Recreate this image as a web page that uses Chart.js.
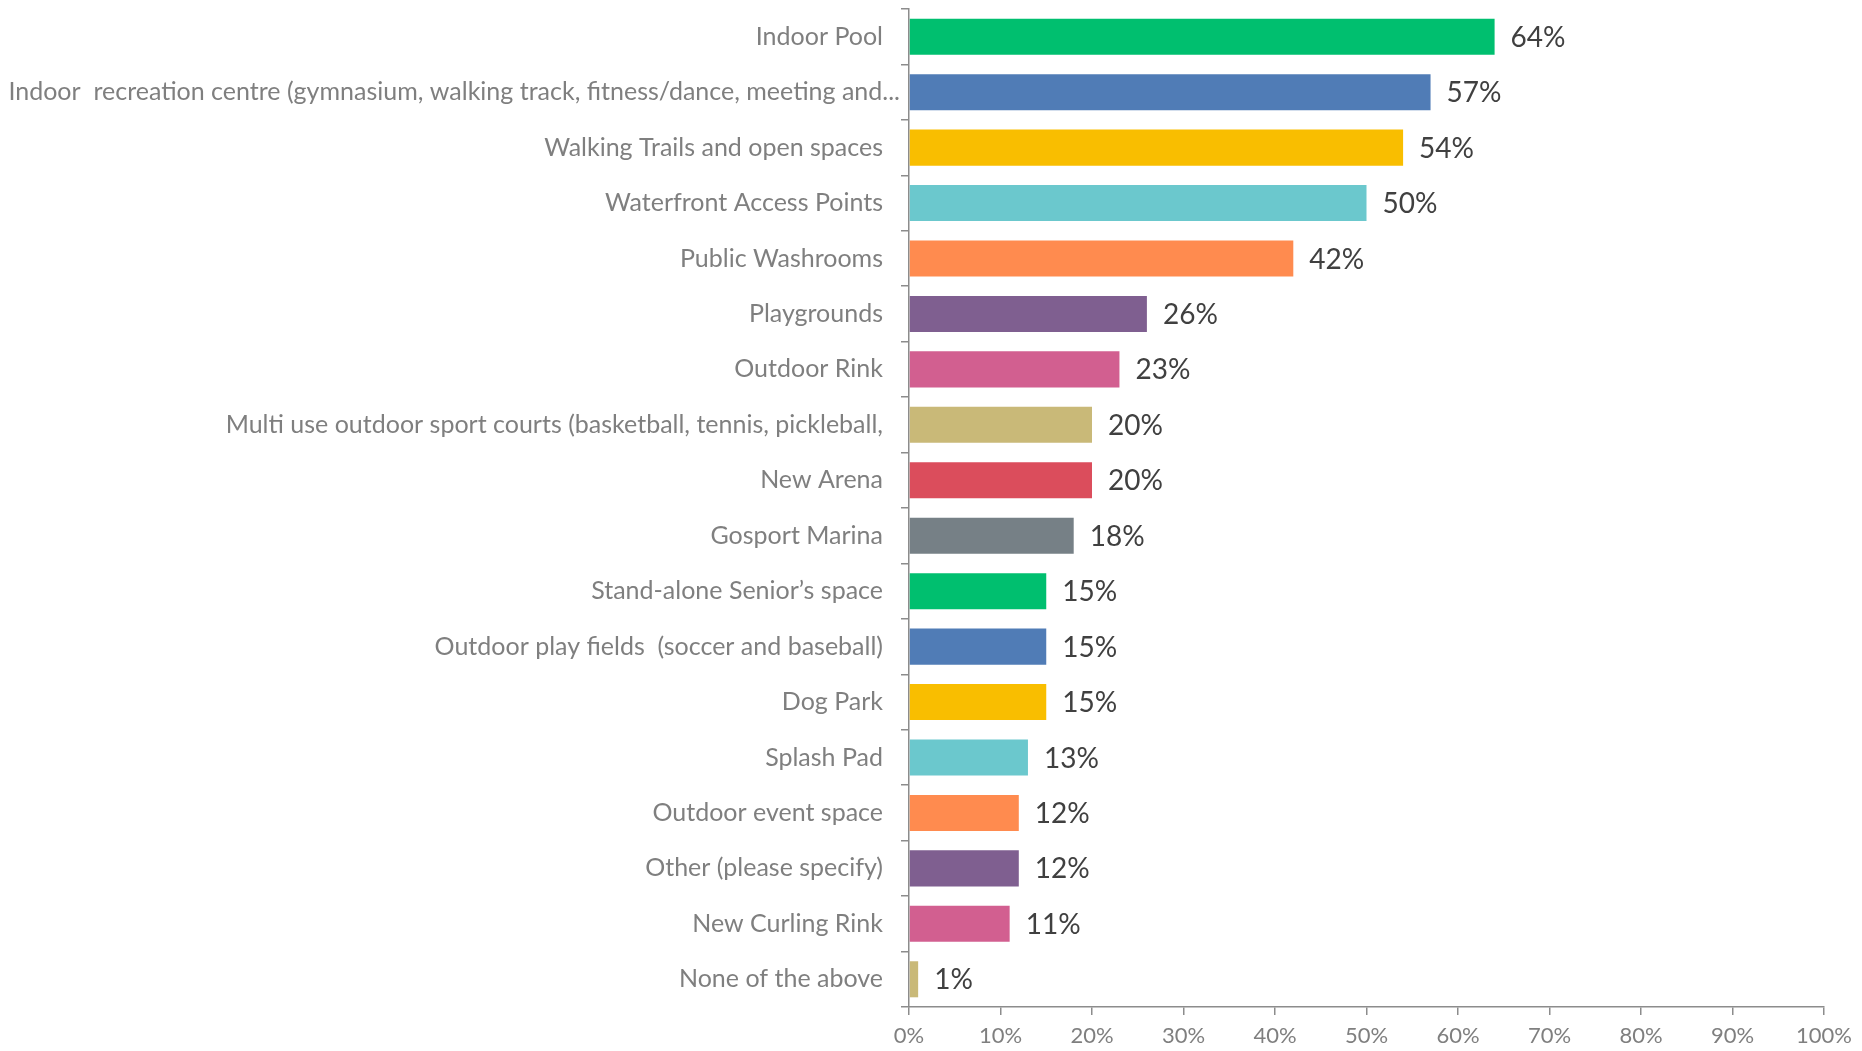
<!DOCTYPE html>
<html>
<head>
<meta charset="utf-8">
<script src="https://cdn.jsdelivr.net/npm/chart.js@4.4.1/dist/chart.umd.min.js"></script>
<style>
  html, body { margin: 0; padding: 0; background: #fff; }
  #wrap { width: 1862px; height: 1051px; }
</style>
</head>
<body>
<div id="wrap"><canvas id="chart" width="1862" height="1051"></canvas></div>
<script>
const categories = [
  "Indoor Pool",
  "Indoor  recreation centre (gymnasium, walking track, fitness/dance, meeting and...",
  "Walking Trails and open spaces",
  "Waterfront Access Points",
  "Public Washrooms",
  "Playgrounds",
  "Outdoor Rink",
  "Multi use outdoor sport courts (basketball, tennis, pickleball,",
  "New Arena",
  "Gosport Marina",
  "Stand-alone Senior\u2019s space",
  "Outdoor play fields  (soccer and baseball)",
  "Dog Park",
  "Splash Pad",
  "Outdoor event space",
  "Other (please specify)",
  "New Curling Rink",
  "None of the above",
];

const percents = [64, 57, 54, 50, 42, 26, 23, 20, 20, 18, 15, 15, 15, 13, 12, 12, 11, 1];

const palette = [
  "#00bf6f", "#507cb6", "#f9be00", "#6bc8cd", "#ff8b4f",
  "#7f5f90", "#d25f90", "#c9b978", "#db4d5c", "#768086",
];

const xTicks = [0, 10, 20, 30, 40, 50, 60, 70, 80, 90, 100];

const axisGrey = "#8c8c8c";
const labelGrey = "#7f7f7f";

// value text just past the end of each bar
const barValueLabels = {
  id: "barValueLabels",
  afterDatasetsDraw(chart) {
    const { ctx } = chart;
    const meta = chart.getDatasetMeta(0);
    ctx.save();
    ctx.font = "28px Lato";
    ctx.fillStyle = "#404040";
    ctx.textAlign = "left";
    ctx.textBaseline = "middle";
    meta.data.forEach((bar, i) => {
      ctx.fillText(percents[i] + "%", bar.x + 16, bar.y + 1);
    });
    ctx.restore();
  },
};

// category names, right aligned against the y axis; the truncated
// long name sits a little closer to the axis than the rest
const categoryLabels = {
  id: "categoryLabels",
  afterDraw(chart) {
    const { ctx, chartArea } = chart;
    const y = chart.scales.y;
    ctx.save();
    ctx.font = "25px Lato";
    ctx.fillStyle = labelGrey;
    ctx.textAlign = "right";
    ctx.textBaseline = "middle";
    categories.forEach((name, i) => {
      const gap = name.endsWith("...") ? 9 : 26;
      ctx.fillText(name, chartArea.left - gap, y.getPixelForValue(i));
    });
    ctx.restore();
  },
};

new Chart(document.getElementById("chart"), {
  type: "bar",
  data: {
    labels: categories,
    datasets: [
      {
        data: percents,
        backgroundColor: categories.map((_, i) => palette[i % palette.length]),
        barPercentage: 0.65,
        categoryPercentage: 1,
      },
    ],
  },
  options: {
    indexAxis: "y",
    responsive: false,
    animation: false,
    layout: {
      padding: { top: 9, right: 38, left: 0, bottom: 0 },
    },
    plugins: {
      legend: { display: false },
      tooltip: { enabled: false },
    },
    scales: {
      x: {
        min: 0,
        max: 100,
        afterBuildTicks: (scale) => {
          scale.ticks = xTicks.map((v) => ({ value: v }));
        },
        afterFit: (scale) => {
          scale.height = 44;
        },
        grid: {
          drawOnChartArea: false,
          drawTicks: true,
          tickLength: 8,
          color: axisGrey,
          lineWidth: 1.5,
        },
        border: { display: true, color: axisGrey, width: 1.5 },
        ticks: {
          padding: 8,
          color: labelGrey,
          font: { family: "Lato", size: 22 },
          maxRotation: 0,
          callback: (v) => v + "%",
        },
      },
      y: {
        afterFit: (scale) => {
          scale.width = 909;
          scale.paddingTop = 0;
          scale.paddingBottom = 0;
        },
        grid: {
          drawOnChartArea: false,
          drawTicks: true,
          tickLength: 8,
          offset: true,
          color: axisGrey,
          lineWidth: 1.5,
        },
        border: { display: true, color: axisGrey, width: 1.5 },
        ticks: {
          autoSkip: false,
          callback: () => "",
        },
      },
    },
  },
  plugins: [barValueLabels, categoryLabels],
});
</script>
</body>
</html>
